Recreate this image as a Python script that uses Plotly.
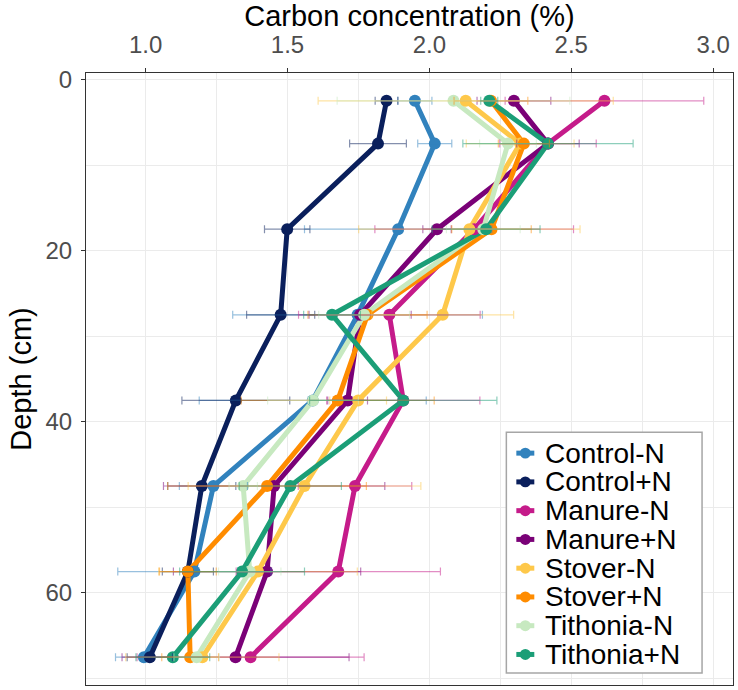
import plotly.graph_objects as go

# ---------------- data ----------------
depth = [2.5, 7.5, 17.5, 27.5, 37.5, 47.5, 57.5, 67.5]

treatments = ["Control-N", "Control+N", "Manure-N", "Manure+N",
              "Stover-N", "Stover+N", "Tithonia-N", "Tithonia+N"]
colors = ["#3182bd", "#0a1f5c", "#c51b8a", "#7a0177",
          "#fec84a", "#ff8c00", "#c7e9c0", "#1b9e77"]

control_minus_n = [1.949, 2.019, 1.890, 1.747, 1.589, 1.239, 1.172, 0.994]
control_plus_n = [1.849, 1.819, 1.499, 1.476, 1.318, 1.198, 1.149, 1.015]
manure_minus_n = [2.617, 2.418, 2.158, 1.859, 1.908, 1.738, 1.679, 1.370]
manure_plus_n = [2.298, 2.418, 2.027, 1.756, 1.712, 1.453, 1.428, 1.317]
stover_minus_n = [2.128, 2.320, 2.141, 2.047, 1.749, 1.560, 1.396, 1.200]
stover_plus_n = [2.217, 2.333, 2.219, 1.782, 1.677, 1.428, 1.149, 1.157]
tithonia_minus_n = [2.085, 2.277, 2.190, 1.770, 1.590, 1.344, 1.367, 1.180]
tithonia_plus_n = [2.211, 2.418, 2.200, 1.657, 1.908, 1.510, 1.340, 1.096]

control_minus_n_err = [0.06, 0.06, 0.33, 0.44, 0.40, 0.12, 0.27, 0.10]
control_plus_n_err = [0.04, 0.10, 0.08, 0.12, 0.19, 0.12, 0.09, 0.08]
manure_minus_n_err = [0.35, 0.17, 0.35, 0.32, 0.27, 0.20, 0.36, 0.40]
manure_plus_n_err = [0.13, 0.11, 0.05, 0.18, 0.07, 0.39, 0.33, 0.40]
stover_minus_n_err = [0.52, 0.19, 0.39, 0.25, 0.10, 0.41, 0.35, 0.27]
stover_plus_n_err = [0.13, 0.09, 0.14, 0.21, 0.34, 0.35, 0.10, 0.10]
tithonia_minus_n_err = [0.41, 0.10, 0.13, 0.16, 0.16, 0.05, 0.11, 0.08]
tithonia_plus_n_err = [0.03, 0.30, 0.19, 0.10, 0.33, 0.18, 0.22, 0.13]

x_ticks = [1.0, 1.5, 2.0, 2.5, 3.0]
y_ticks = [0, 20, 40, 60]

values = [control_minus_n, control_plus_n, manure_minus_n, manure_plus_n,
          stover_minus_n, stover_plus_n, tithonia_minus_n, tithonia_plus_n]
errors = [control_minus_n_err, control_plus_n_err, manure_minus_n_err, manure_plus_n_err,
          stover_minus_n_err, stover_plus_n_err, tithonia_minus_n_err, tithonia_plus_n_err]

# ---------------- layout geometry ----------------
W, H = 738, 690
ML, MR, MT, MB = 86, 4, 70, 5
FONT = "Liberation Sans, Arial, Helvetica, sans-serif"


def px_x(px):
    return (px - ML) / (W - ML - MR)


def px_y(py):
    return (H - MB - py) / (H - MT - MB)


def rgba(hex_color, a):
    h = hex_color.lstrip("#")
    r, g, b = int(h[0:2], 16), int(h[2:4], 16), int(h[4:6], 16)
    return f"rgba({r},{g},{b},{a})"


fig = go.Figure()

# lines
for name, col, vals in zip(treatments, colors, values):
    fig.add_trace(go.Scatter(x=vals, y=depth, mode="lines", name=name,
                             line=dict(color=col, width=5),
                             showlegend=False, hoverinfo="skip"))
# points
for name, col, vals in zip(treatments, colors, values):
    fig.add_trace(go.Scatter(x=vals, y=depth, mode="markers", name=name,
                             marker=dict(color=col, size=12),
                             showlegend=False))
# error bars
for name, col, vals, err in zip(treatments, colors, values, errors):
    fig.add_trace(go.Scatter(x=vals, y=depth, mode="markers", name=name,
                             marker=dict(color="rgba(0,0,0,0)", size=1),
                             error_x=dict(type="data", array=err, symmetric=True,
                                          color=rgba(col, 0.5), thickness=1.2, width=4),
                             showlegend=False, hoverinfo="skip"))

# ---------------- manual legend ----------------
shapes = []
annotations = []
shapes.append(dict(type="rect", xref="paper", yref="paper",
                   x0=px_x(507), x1=px_x(703), y0=px_y(673), y1=px_y(431),
                   line=dict(color="#a6a6a6", width=1.5), fillcolor="white", layer="above"))
row0, step = 452, 28.9
for i, (name, col) in enumerate(zip(treatments, colors)):
    cy = row0 + i * step
    shapes.append(dict(type="line", xref="paper", yref="paper",
                       x0=px_x(517), x1=px_x(535), y0=px_y(cy), y1=px_y(cy),
                       line=dict(color=col, width=5), layer="above"))
    r = 5.5
    shapes.append(dict(type="circle", xref="paper", yref="paper",
                       x0=px_x(526 - r), x1=px_x(526 + r), y0=px_y(cy + r), y1=px_y(cy - r),
                       line=dict(color=col, width=0), fillcolor=col, layer="above"))
    annotations.append(dict(xref="paper", yref="paper", x=px_x(545), y=px_y(cy),
                            xanchor="left", yanchor="middle", showarrow=False,
                            borderpad=0,
                            text=name, font=dict(family=FONT, size=28, color="black")))

fig.update_layout(
    width=W, height=H,
    margin=dict(l=ML, r=MR, t=MT, b=MB, pad=0),
    paper_bgcolor="white", plot_bgcolor="white",
    showlegend=False,
    font=dict(family=FONT),
    shapes=shapes, annotations=annotations,
)

fig.update_xaxes(
    side="top", range=[0.79, 3.07],
    tickvals=x_ticks, tickformat=".1f",
    tickfont=dict(family=FONT, size=24, color="#4d4d4d"),
    ticks="outside", ticklen=4, tickwidth=1, tickcolor="#333333",
    ticklabelstandoff=5,
    showgrid=True, gridcolor="#ebebeb", gridwidth=1.2,
    minor=dict(dtick=0.25, tick0=0.75, showgrid=True, gridcolor="#ebebeb", gridwidth=0.7, ticks=""),
    showline=True, mirror=True, linecolor="#333333", linewidth=1.2,
    zeroline=False,
    title=dict(text="Carbon concentration (%)", font=dict(family=FONT, size=29, color="black"), standoff=7),
)
fig.update_yaxes(
    range=[70.75, -0.75],
    tickvals=y_ticks,
    tickfont=dict(family=FONT, size=24, color="#4d4d4d"),
    ticks="outside", ticklen=4, tickwidth=1, tickcolor="#333333",
    ticklabelstandoff=4,
    showgrid=True, gridcolor="#ebebeb", gridwidth=1.2,
    minor=dict(dtick=10, tick0=0, showgrid=True, gridcolor="#ebebeb", gridwidth=0.7, ticks=""),
    showline=True, mirror=True, linecolor="#333333", linewidth=1.2,
    zeroline=False,
    title=dict(text="Depth (cm)", font=dict(family=FONT, size=29, color="black"), standoff=5),
)

fig.write_html("out.html")
